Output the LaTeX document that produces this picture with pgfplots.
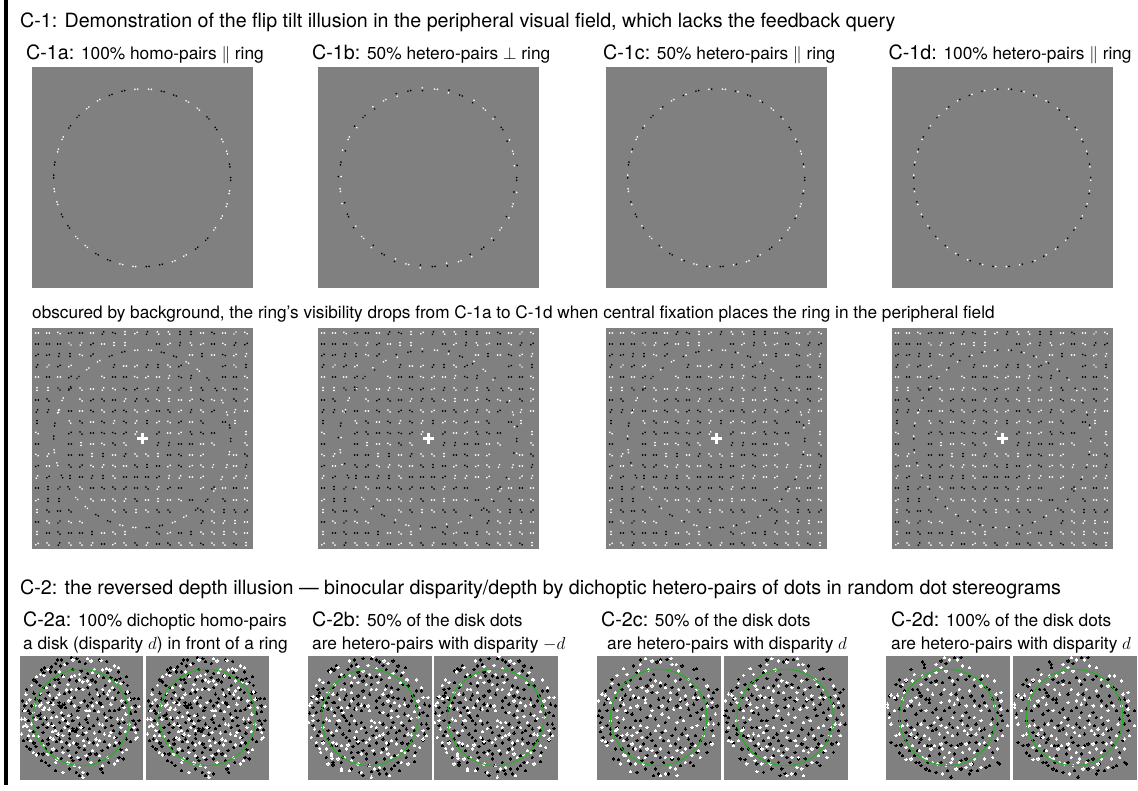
\documentclass[border=0pt]{standalone}
\usepackage{fontspec}
\setmainfont{TeX Gyre Heros}
\usepackage{pgfplots}
\usepackage{pgfplotstable}
\pgfplotsset{compat=1.18}
\definecolor{panelgray}{gray}{0.5}
\definecolor{ringgreen}{rgb}{0.13,0.70,0.13}
\pgfdeclareplotmark{pr}{%
 \pgftransformrotate{\ang}%
 \definecolor{cp}{gray}{\pp}\definecolor{cq}{gray}{\qq}%
 \pgfsetfillcolor{cp}\pgfpathcircle{\pgfqpoint{1.4pt}{0pt}}{.95pt}\pgfusepathqfill
 \pgfsetfillcolor{cq}\pgfpathcircle{\pgfqpoint{-1.4pt}{0pt}}{.95pt}\pgfusepathqfill}
\pgfplotsset{
 panel/.style={scale only axis,width=221pt,height=221pt,anchor=north west,xmin=0,xmax=221,ymin=0,ymax=221,y dir=reverse,ticks=none,axis line style={draw=none},axis background/.style={fill=panelgray},point meta min=0,point meta max=400},
 spanel/.style={panel,width=123.5pt,height=123.5pt,xmin=0,xmax=372,ymin=0,ymax=372}}
% ring of 42 pairs: centre, clockwise tangent t, angle u for C-1b, colours (0 black, 1 white)
\def\ringtab{
x y t u c b1 b2 c1 c2 d1 d2\\
104.3 22.2 4 94 1 1 0 0 1 0 1\\
118 22.2 -4 -4 1 1 1 1 1 0 1\\
130.7 24.5 -13 77 0 0 1 1 0 1 0\\
143 28.5 -21 -21 0 0 0 0 0 1 0\\
155.3 34.5 -30 60 1 1 0 0 1 0 1\\
166.3 42.2 -39 -39 1 1 1 1 1 0 1\\
176 50.9 -47 43 0 0 1 1 0 1 0\\
184 61.5 -56 -56 0 0 0 0 0 1 0\\
190.3 73.5 -64 26 1 1 0 0 1 0 1\\
195 85.5 -73 -73 1 1 1 1 1 0 1\\
197.7 98.5 -81 9 0 0 1 1 0 1 0\\
198.7 111.9 -90 -90 0 0 0 0 0 1 0\\
197.3 125.2 -99 -9 1 1 0 0 1 0 1\\
194.7 138.2 -107 -107 1 1 1 1 1 0 1\\
189.7 150.2 -116 -26 1 1 0 0 1 0 1\\
182.7 161.9 -124 -124 1 1 1 1 1 0 1\\
174.7 172.2 -133 -43 0 0 1 1 0 1 0\\
164.7 181.2 -141 -141 0 0 0 0 0 1 0\\
153 188.5 -150 -60 1 1 0 0 1 0 1\\
141.7 194.2 -159 -159 1 1 1 1 1 0 1\\
129 197.5 -167 -77 0 0 1 1 0 1 0\\
115.7 199.5 -176 -176 0 0 0 0 0 1 0\\
102.3 199.5 -184 -94 1 1 0 0 1 0 1\\
89.3 197.2 -193 -193 1 1 1 1 1 0 1\\
77 193.2 -201 -111 0 0 1 1 0 1 0\\
65 187.2 -210 -210 0 0 0 0 0 1 0\\
54.3 179.5 -219 -129 1 1 0 0 1 0 1\\
44.7 170.5 -227 -227 1 1 1 1 1 0 1\\
36.7 159.9 -236 -146 0 0 1 1 0 1 0\\
30 148.5 -244 -244 0 0 0 0 0 1 0\\
25.3 136.2 -253 -163 1 1 0 0 1 0 1\\
22.3 123.2 -261 -261 1 1 1 1 1 0 1\\
21.7 109.5 -270 -180 0 0 1 1 0 1 0\\
22.7 96.5 -279 -279 0 0 0 0 0 1 0\\
26 83.5 -287 -197 1 1 0 0 1 0 1\\
30.7 71.2 -296 -296 1 1 1 1 1 0 1\\
37.7 59.9 -304 -214 0 0 1 1 0 1 0\\
46 49.5 -313 -313 0 0 0 0 0 1 0\\
55.7 40.9 -321 -231 1 1 0 0 1 0 1\\
66.7 33.2 -330 -330 1 1 1 1 1 0 1\\
78.7 27.9 -339 -249 0 0 1 1 0 1 0\\
91.3 23.9 -347 -347 0 0 0 0 0 1 0\\
}
% background lattice of pairs
\def\bgtab{
x y a c\\
5 5 0 1\\16 5 0 1\\27 5 -30 1\\38 5 10 0\\49 5 0 0\\60 5 0 1\\71 5 60 0\\82 5 -20 0\\93 5 90 1\\104 5 30 1\\115 5 70 0\\126 5 -60 1\\137 5 -60 1\\148 5 90 0\\159 5 90 0\\170 5 0 1\\181 5 -30 0\\192 5 0 1\\203 5 45 1\\214 5 -30 1\\
5 16 0 0\\16 16 0 0\\27 16 0 0\\38 16 -45 1\\49 16 60 1\\60 16 30 0\\71 16 0 1\\82 16 90 1\\93 16 90 1\\126 16 0 0\\137 16 30 1\\148 16 80 0\\159 16 -60 1\\170 16 20 1\\181 16 0 0\\192 16 -30 1\\203 16 60 0\\214 16 30 0\\
5 27 30 0\\16 27 10 0\\27 27 80 0\\38 27 90 0\\49 27 -20 1\\60 27 40 0\\159 27 0 1\\170 27 90 0\\181 27 0 1\\192 27 -20 0\\203 27 30 1\\214 27 70 1\\
5 38 60 0\\16 38 45 1\\27 38 30 0\\38 38 30 1\\82 38 70 0\\93 38 0 1\\104 38 30 1\\115 38 60 0\\126 38 90 0\\137 38 -40 1\\148 38 30 0\\192 38 20 0\\203 38 -45 1\\214 38 90 0\\
5 49 0 1\\16 49 0 0\\27 49 0 1\\38 49 30 0\\71 49 -30 1\\82 49 0 0\\93 49 0 0\\104 49 -20 1\\115 49 30 1\\126 49 0 1\\137 49 70 1\\148 49 -20 0\\159 49 80 0\\192 49 0 0\\203 49 0 0\\214 49 -30 1\\
5 61 90 1\\16 61 90 1\\27 61 -45 0\\38 61 40 0\\49 61 -50 1\\60 61 0 1\\71 61 60 1\\82 61 -30 1\\93 61 -30 0\\104 61 30 0\\115 61 20 1\\126 61 70 0\\137 61 -50 1\\148 61 45 0\\159 61 90 1\\170 61 -60 0\\192 61 -40 1\\203 61 0 0\\214 61 -30 1\\
5 72 0 0\\16 72 -50 0\\49 72 -40 1\\60 72 30 0\\71 72 -40 0\\82 72 0 0\\93 72 60 1\\104 72 60 0\\115 72 -50 0\\126 72 -30 1\\137 72 90 1\\148 72 0 1\\159 72 30 1\\170 72 -30 0\\181 72 -20 1\\203 72 -40 0\\214 72 40 1\\
5 83 60 0\\16 83 70 0\\27 83 70 1\\38 83 0 0\\49 83 0 1\\60 83 -30 0\\71 83 -40 1\\82 83 30 0\\93 83 -30 0\\104 83 -40 1\\115 83 30 1\\126 83 0 0\\137 83 -50 0\\148 83 30 1\\159 83 70 0\\170 83 -40 1\\181 83 30 0\\203 83 70 1\\214 83 0 1\\
5 94 90 0\\38 94 -60 1\\49 94 -40 0\\60 94 0 1\\71 94 -30 0\\82 94 70 1\\93 94 -30 0\\104 94 60 1\\115 94 90 0\\126 94 30 1\\137 94 -30 1\\148 94 30 0\\159 94 0 1\\170 94 -50 0\\192 94 0 0\\203 94 90 1\\
5 105 -30 1\\38 105 30 0\\49 105 -50 0\\60 105 0 0\\71 105 -20 0\\82 105 -20 0\\93 105 30 0\\104 105 60 1\\126 105 40 0\\137 105 0 1\\148 105 30 1\\159 105 -60 0\\170 105 -30 0\\181 105 0 0\\214 105 90 1\\
5 116 0 0\\38 116 0 0\\49 116 90 1\\60 116 0 1\\71 116 -30 1\\82 116 -40 0\\93 116 -50 1\\126 116 70 0\\137 116 80 0\\148 116 0 0\\159 116 0 0\\170 116 0 1\\181 116 -40 1\\214 116 -50 1\\
5 127 -30 1\\16 127 60 1\\38 127 0 0\\49 127 0 0\\60 127 90 1\\71 127 90 0\\82 127 0 1\\93 127 60 0\\104 127 -50 1\\115 127 -40 1\\126 127 90 1\\137 127 0 0\\148 127 -30 0\\159 127 0 1\\170 127 30 1\\203 127 0 1\\214 127 -40 0\\
5 138 20 0\\16 138 0 1\\38 138 -50 0\\49 138 40 0\\60 138 -30 1\\71 138 60 1\\82 138 -30 1\\93 138 0 1\\104 138 -40 0\\115 138 90 0\\126 138 0 0\\137 138 30 1\\148 138 -30 0\\159 138 20 1\\170 138 -40 1\\181 138 70 1\\203 138 0 1\\214 138 70 0\\
5 149 60 1\\16 149 30 0\\38 149 90 0\\49 149 0 0\\60 149 70 0\\71 149 90 0\\82 149 -50 1\\93 149 0 0\\104 149 0 0\\115 149 0 0\\126 149 30 0\\137 149 80 1\\148 149 60 1\\159 149 0 1\\170 149 30 1\\203 149 40 1\\214 149 70 1\\
5 160 0 0\\16 160 90 0\\27 160 45 0\\49 160 -40 1\\60 160 0 0\\71 160 -30 0\\82 160 -40 0\\93 160 40 0\\104 160 0 0\\115 160 -40 0\\126 160 60 1\\137 160 30 0\\148 160 0 0\\170 160 30 1\\181 160 40 0\\192 160 0 1\\203 160 0 0\\214 160 0 1\\
5 172 30 1\\16 172 90 0\\27 172 90 0\\60 172 -40 1\\71 172 0 1\\82 172 -40 1\\93 172 60 1\\104 172 -50 0\\115 172 0 1\\126 172 90 1\\137 172 0 1\\148 172 -30 1\\159 172 0 0\\192 172 -50 0\\203 172 0 1\\214 172 -30 1\\
5 183 90 1\\16 183 -40 0\\27 183 0 0\\38 183 -40 0\\82 183 -40 1\\93 183 -50 0\\104 183 90 1\\115 183 -40 1\\126 183 -50 0\\137 183 -50 0\\170 183 -40 0\\181 183 -40 1\\192 183 90 0\\203 183 -60 0\\214 183 40 0\\
5 194 0 0\\16 194 -40 1\\27 194 45 0\\38 194 -30 1\\49 194 -30 1\\170 194 60 0\\181 194 -40 1\\192 194 60 1\\203 194 90 1\\214 194 0 1\\
5 205 90 1\\16 205 0 0\\27 205 -50 0\\38 205 0 0\\49 205 0 0\\60 205 90 0\\71 205 0 1\\82 205 -40 1\\93 205 90 1\\126 205 -40 0\\137 205 20 1\\148 205 0 0\\159 205 90 0\\170 205 -40 1\\181 205 -40 1\\192 205 90 1\\203 205 -40 1\\214 205 0 1\\
5 216 30 1\\16 216 -50 1\\27 216 60 0\\38 216 -50 1\\49 216 -50 1\\60 216 60 1\\71 216 0 0\\82 216 30 1\\93 216 -50 1\\104 216 -50 0\\115 216 60 1\\126 216 0 0\\137 216 -40 0\\148 216 -50 1\\159 216 -50 1\\170 216 -30 0\\181 216 -40 1\\192 216 -50 1\\203 216 -30 0\\214 216 90 1\\
}
% dots of the four stereograms, in units of one third of a pixel
\pgfplotstableread[row sep=\\]{
x y\\113 12\\125 12\\155 4\\172 8\\180 16\\108 22\\142 22\\95 33\\88 40\\75 36\\123 30\\240 12\\262 16\\198 22\\65 42\\72 50\\92 48\\42 72\\50 78\\108 48\\130 60\\205 52\\218 72\\253 65\\303 68\\322 62\\298 48\\275 65\\60 88\\72 95\\120 80\\150 72\\172 75\\197 65\\228 78\\258 88\\290 72\\312 80\\325 88\\105 70\\20 100\\42 112\\85 110\\112 100\\135 113\\178 98\\210 115\\232 100\\253 112\\297 110\\320 112\\345 128\\358 128\\15 150\\48 130\\60 135\\78 128\\118 140\\125 155\\138 155\\155 142\\178 155\\195 135\\220 128\\240 140\\265 128\\288 130\\320 140\\335 130\\348 150\\12 165\\25 165\\55 180\\62 175\\100 170\\130 180\\155 178\\175 165\\205 150\\225 165\\255 175\\285 165\\300 160\\335 172\\350 168\\62 188\\80 190\\95 205\\120 200\\138 195\\160 195\\180 205\\200 190\\222 210\\262 195\\278 210\\300 202\\342 195\\350 205\\360 195\\55 215\\70 230\\125 225\\145 212\\160 225\\172 220\\190 235\\210 218\\240 228\\258 215\\282 225\\302 232\\338 222\\355 222\\20 272\\22 250\\42 262\\68 255\\85 265\\110 258\\150 248\\172 265\\178 275\\205 250\\222 262\\255 258\\290 245\\300 262\\322 250\\335 258\\48 272\\55 295\\78 278\\95 290\\128 275\\145 285\\170 290\\195 282\\212 295\\248 285\\265 275\\285 270\\305 282\\65 315\\78 320\\88 330\\125 308\\160 315\\182 312\\205 310\\240 315\\268 320\\300 305\\312 310\\108 345\\150 340\\170 350\\180 360\\245 340\\250 350\\205 355\\
118 150\\128 148\\135 145\\160 218\\168 228\\150 235\\100 130\\92 140\\35 150\\30 172\\40 185\\70 205\\82 215\\105 215\\112 240\\140 262\\190 215\\205 200\\235 190\\270 165\\310 150\\330 110\\285 100\\240 120\\165 125\\150 108\\205 95\\235 60\\265 50\\185 45\\160 40\\115 70\\90 85\\60 115\\8 135\\25 195\\42 228\\10 255\\30 280\\70 295\\110 285\\155 305\\230 295\\330 205\\315 200\\275 185\\245 145\\215 140\\120 250\\85 250\\
}\Ak
\pgfplotstableread[row sep=\\]{
x y\\205 8\\215 15\\160 12\\245 14\\285 30\\298 35\\262 38\\250 42\\272 42\\135 25\\62 55\\50 62\\72 58\\120 48\\132 62\\85 40\\155 62\\165 58\\180 72\\190 78\\205 75\\212 85\\238 60\\270 75\\290 80\\305 82\\325 108\\35 88\\18 115\\30 132\\62 112\\80 95\\90 118\\155 100\\140 102\\170 100\\190 100\\250 100\\270 105\\118 115\\155 125\\148 135\\20 142\\45 148\\75 155\\88 160\\70 162\\100 145\\210 165\\200 165\\232 140\\250 152\\275 145\\308 135\\338 155\\360 152\\5 190\\15 190\\18 208\\10 212\\22 212\\48 190\\75 185\\95 185\\110 182\\130 190\\148 180\\145 202\\175 185\\208 180\\240 205\\250 208\\260 185\\238 168\\310 190\\320 175\\345 215\\5 235\\30 225\\25 240\\32 255\\55 242\\98 228\\92 245\\108 225\\115 235\\130 240\\175 240\\200 230\\225 232\\240 255\\235 268\\270 240\\275 230\\305 215\\320 228\\355 245\\350 250\\40 290\\50 298\\100 250\\100 280\\125 258\\150 268\\162 262\\192 255\\220 285\\270 268\\290 260\\310 290\\322 282\\112 310\\108 320\\145 322\\165 330\\175 305\\215 320\\285 325\\295 315\\130 350\\190 350\\180 335\\190 365\\250 330\\
60 150\\65 145\\85 140\\110 125\\35 205\\40 170\\125 170\\165 150\\185 140\\220 150\\265 115\\280 125\\315 155\\330 205\\295 190\\285 245\\255 235\\230 250\\210 260\\195 270\\185 215\\150 225\\135 215\\85 205\\100 210\\70 270\\85 295\\130 290\\150 300\\200 300\\240 300\\265 305\\40 240\\15 165\\220 50\\180 55\\225 40\\145 85\\105 90\\235 115\\280 95\\330 130\\350 230\\
}\Aw
\pgfplotstableread[row sep=\\]{
x y\\140 12\\165 8\\190 8\\205 12\\215 18\\145 25\\130 30\\85 28\\62 45\\78 42\\70 38\\225 28\\255 15\\270 30\\292 35\\155 60\\150 48\\190 65\\205 62\\220 70\\265 45\\280 58\\95 62\\110 82\\75 95\\62 80\\30 100\\45 98\\35 110\\130 90\\165 105\\190 85\\235 90\\250 95\\285 85\\300 90\\325 105\\340 105\\88 115\\115 118\\135 130\\150 120\\185 115\\215 125\\255 125\\270 128\\290 130\\30 140\\45 130\\62 125\\75 140\\90 155\\125 148\\150 145\\170 150\\205 155\\225 145\\248 150\\265 165\\310 135\\325 150\\350 145\\365 150\\5 172\\25 170\\45 155\\60 160\\80 170\\110 185\\130 180\\160 165\\240 178\\290 175\\345 170\\358 180\\15 210\\30 195\\45 200\\85 205\\95 215\\125 205\\160 200\\225 205\\255 200\\285 210\\295 220\\305 195\\340 205\\355 205\\28 240\\35 228\\60 225\\75 240\\105 235\\115 245\\145 250\\150 262\\125 225\\175 230\\205 225\\240 232\\265 230\\290 240\\320 225\\360 218\\25 270\\45 258\\85 270\\125 255\\135 272\\165 285\\185 270\\205 262\\225 250\\265 250\\282 262\\310 255\\345 255\\95 285\\150 290\\175 295\\200 295\\225 280\\260 300\\300 285\\322 290\\55 305\\75 328\\75 320\\100 320\\135 305\\175 310\\205 320\\230 310\\270 320\\295 305\\320 318\\130 340\\155 350\\165 360\\190 348\\230 340\\235 355\\250 340\\275 345\\215 355\\
105 180\\115 195\\60 250\\70 270\\40 165\\30 120\\55 140\\110 130\\140 160\\205 135\\240 120\\175 60\\120 40\\110 60\\165 75\\235 40\\315 120\\300 150\\335 175\\275 225\\250 215\\215 170\\195 240\\165 255\\130 290\\105 305\\240 265\\300 265\\350 235\\15 155\\12 125\\180 330\\210 345\\260 330\\145 205\\170 215\\100 165\\80 140\\270 100\\
}\Bk
\pgfplotstableread[row sep=\\]{
x y\\125 15\\195 2\\228 15\\240 22\\180 28\\205 38\\90 35\\68 48\\150 32\\285 50\\295 70\\325 72\\35 72\\45 80\\25 88\\100 55\\125 58\\185 55\\245 65\\255 52\\278 80\\298 72\\190 100\\232 100\\250 108\\340 95\\15 122\\10 140\\25 128\\5 148\\60 110\\80 85\\100 100\\110 100\\130 110\\205 100\\225 115\\170 125\\260 140\\275 150\\330 135\\345 125\\360 125\\50 150\\95 130\\100 155\\118 155\\145 160\\160 148\\180 150\\250 165\\300 180\\310 188\\320 168\\330 185\\15 180\\2 200\\15 195\\55 190\\65 195\\90 195\\140 195\\190 195\\200 200\\190 212\\205 215\\215 200\\270 182\\250 185\\45 215\\20 220\\70 230\\85 225\\95 195\\145 228\\160 218\\215 240\\225 235\\260 215\\300 235\\310 238\\330 240\\355 240\\10 245\\45 262\\35 278\\38 290\\55 280\\70 295\\72 308\\85 265\\120 268\\150 258\\185 250\\205 245\\235 262\\250 255\\265 265\\280 285\\320 270\\345 250\\70 300\\100 340\\100 345\\110 305\\115 280\\160 295\\220 290\\240 295\\250 305\\290 290\\320 300\\300 325\\150 325\\185 330\\125 345\\160 350\\215 335\\245 360\\190 365\\
40 125\\70 160\\80 180\\105 170\\130 135\\185 165\\225 170\\235 215\\280 200\\315 215\\335 155\\290 145\\240 135\\210 80\\175 85\\150 80\\130 80\\75 115\\165 45\\215 55\\140 65\\40 240\\25 260\\75 260\\100 270\\140 245\\175 260\\195 285\\235 280\\270 300\\280 320\\335 275\\345 225\\60 325\\90 310\\130 315\\200 340\\
}\Bw
\pgfplotstableread[row sep=\\]{
x y\\130 12\\190 12\\210 10\\180 18\\255 30\\290 40\\298 38\\110 30\\45 70\\40 95\\100 72\\130 68\\160 72\\215 60\\250 70\\300 68\\320 70\\25 105\\75 100\\120 95\\150 90\\190 90\\225 95\\285 92\\335 100\\350 110\\360 100\\55 125\\85 118\\100 130\\165 110\\200 125\\240 115\\265 130\\295 115\\320 125\\345 128\\8 165\\15 185\\30 165\\50 160\\70 150\\90 170\\105 175\\130 160\\160 150\\185 155\\210 160\\240 150\\290 145\\315 160\\345 155\\360 150\\10 200\\30 210\\65 200\\85 215\\115 195\\150 185\\175 190\\205 200\\250 185\\280 180\\310 190\\340 190\\365 205\\10 228\\18 245\\40 235\\60 240\\90 250\\130 225\\160 235\\195 230\\235 220\\265 220\\295 240\\320 220\\345 225\\30 260\\55 280\\95 270\\120 255\\150 245\\175 270\\200 255\\235 265\\275 250\\310 255\\340 260\\50 310\\65 312\\95 295\\130 285\\150 300\\180 290\\215 290\\245 310\\280 275\\300 290\\330 290\\100 325\\120 350\\145 340\\175 340\\200 320\\250 330\\280 320\\290 330\\170 360\\185 355\\215 355\\
75 130\\115 125\\140 125\\60 215\\100 215\\130 195\\185 130\\215 135\\250 135\\275 160\\300 170\\330 145\\300 130\\260 95\\205 85\\170 55\\120 50\\85 80\\65 85\\30 130\\22 145\\5 180\\40 220\\110 280\\75 280\\70 245\\140 265\\165 255\\225 240\\255 235\\285 265\\325 265\\250 275\\225 310\\190 305\\165 320\\135 315\\
}\Ck
\pgfplotstableread[row sep=\\]{
x y\\130 25\\145 8\\165 15\\190 18\\222 8\\238 25\\225 25\\245 45\\80 38\\60 58\\45 82\\90 55\\125 45\\155 42\\175 75\\190 80\\235 75\\280 85\\275 70\\330 90\\15 115\\25 118\\5 135\\35 128\\55 110\\95 90\\100 100\\125 125\\145 130\\135 95\\165 90\\220 110\\245 100\\265 120\\300 100\\305 125\\335 120\\145 140\\80 145\\60 165\\120 150\\165 165\\195 175\\220 130\\250 155\\270 145\\330 150\\345 140\\15 215\\40 195\\60 185\\80 190\\110 215\\130 210\\160 180\\185 210\\215 185\\240 200\\300 210\\325 215\\350 205\\15 255\\25 258\\90 235\\105 240\\120 230\\150 215\\175 225\\205 225\\270 240\\320 240\\335 205\\345 265\\30 270\\80 255\\85 300\\115 280\\130 272\\150 280\\165 285\\190 280\\220 270\\205 305\\255 290\\285 300\\310 305\\115 325\\140 325\\100 348\\220 335\\235 340\\205 355\\190 360\\240 360\\80 298\\305 285\\
40 140\\70 130\\85 165\\100 155\\110 120\\180 110\\205 95\\250 130\\290 125\\320 180\\355 175\\350 240\\285 215\\260 195\\230 160\\195 150\\150 105\\60 220\\45 255\\55 225\\75 240\\105 265\\135 245\\190 245\\215 255\\245 250\\295 270\\265 280\\240 285\\175 300\\145 305\\95 315\\70 325\\125 305\\225 305\\265 320\\
}\Cw
\pgfplotstableread[row sep=\\]{
x y\\110 18\\115 25\\165 15\\180 22\\205 5\\225 5\\75 40\\115 35\\30 85\\45 90\\40 72\\60 75\\95 100\\105 120\\135 80\\170 80\\205 85\\240 70\\250 60\\265 90\\10 120\\30 130\\100 110\\130 130\\165 115\\210 115\\230 125\\265 135\\290 120\\310 100\\320 130\\75 150\\90 175\\105 165\\130 140\\150 160\\175 165\\205 170\\240 170\\250 185\\280 150\\310 165\\335 170\\345 180\\10 175\\40 195\\75 215\\95 205\\135 210\\165 190\\190 205\\225 195\\270 205\\295 220\\320 190\\350 195\\365 165\\60 230\\70 240\\85 245\\95 235\\105 250\\140 225\\175 245\\215 235\\255 240\\290 245\\320 230\\345 225\\15 260\\45 268\\100 260\\135 270\\180 260\\195 270\\225 265\\270 260\\300 270\\330 255\\40 292\\50 300\\70 285\\90 320\\105 330\\130 300\\160 295\\205 295\\240 310\\275 285\\320 290\\100 320\\130 345\\150 350\\185 345\\195 365\\225 340\\250 355\\120 340\\335 320\\340 325\\310 330\\275 345\\255 345\\
55 105\\80 100\\120 70\\150 75\\190 65\\215 70\\285 70\\300 95\\335 130\\340 150\\120 130\\140 170\\190 155\\220 145\\255 120\\295 140\\60 195\\55 165\\40 160\\115 195\\150 220\\200 215\\245 210\\285 225\\335 205\\125 270\\160 275\\215 270\\250 260\\95 285\\125 320\\60 255\\30 270\\85 300\\165 320\\225 315\\260 325\\300 335\\
}\Dk
\pgfplotstableread[row sep=\\]{
x y\\150 25\\165 35\\175 5\\190 12\\215 12\\230 30\\250 35\\60 72\\50 85\\85 55\\110 60\\150 50\\180 45\\225 55\\290 60\\325 75\\15 118\\25 125\\35 118\\55 110\\90 125\\125 100\\150 85\\175 100\\195 115\\220 100\\250 105\\285 90\\330 115\\5 145\\5 155\\10 185\\50 130\\75 135\\120 165\\190 135\\205 145\\240 150\\285 165\\300 150\\345 135\\15 205\\45 212\\50 210\\65 208\\85 222\\145 200\\155 185\\165 210\\180 215\\200 185\\230 180\\265 185\\285 195\\315 205\\345 160\\365 210\\30 240\\40 235\\115 240\\130 250\\160 235\\165 265\\185 230\\200 240\\235 225\\240 265\\270 235\\280 220\\335 250\\350 240\\60 275\\80 270\\100 285\\115 270\\145 270\\170 280\\210 275\\250 280\\295 260\\335 280\\60 312\\75 310\\110 305\\140 320\\175 305\\200 310\\265 310\\295 310\\320 305\\170 355\\220 320\\195 320\\180 330\\240 335\\285 335\\
80 75\\105 85\\130 60\\200 75\\265 70\\305 60\\345 110\\25 165\\65 150\\100 145\\140 115\\165 140\\215 130\\265 150\\325 150\\105 205\\125 215\\230 205\\255 220\\310 240\\280 265\\310 275\\245 235\\215 215\\90 245\\75 235\\135 280\\190 290\\230 290\\265 290\\120 310\\155 325\\210 340\\255 325\\
}\Dw
\newcommand{\pairs}[4]{\def\pairsA##1{\addplot[scatter,only marks,mark=pr,point meta=x,
 visualization depends on={value \thisrow{#2}\as\ang},
 visualization depends on={value \thisrow{#3}\as\pp},
 visualization depends on={value \thisrow{#4}\as\qq}] table[x=x,y=y,row sep=\\] {##1};}%
 \expandafter\pairsA\expandafter{#1}}
\newcommand{\ringpanel}[5]{\begin{axis}[panel,at={(#1pt,-#2pt)}]
 \pairs{\ringtab}{#3}{#4}{#5}
\end{axis}}
\newcommand{\bgpanel}[5]{\begin{axis}[panel,at={(#1pt,-#2pt)}]
 \pairs{\bgtab}{a}{c}{c}
 \pairs{\ringtab}{#3}{#4}{#5}
 \addplot[only marks,mark=+,mark size=5.4pt,mark options={draw=white,line width=2.6pt}] coordinates {(110.3,110.7)};
\end{axis}}
\newcommand{\stereo}[4]{\begin{axis}[spanel,at={(#1pt,-656pt)},width=#2pt]
 \addplot[only marks,color=black,mark=*,mark size=1.2pt,mark options={draw=black,fill=black,line width=0pt}] table {#3};
 \addplot[only marks,color=white,mark=*,mark size=1.2pt,mark options={draw=white,fill=white,line width=0pt}] table {#4};
 \addplot[only marks,mark=o,mark size=48.2pt,mark options={draw=ringgreen,line width=1pt}] coordinates {(185,185)};
\end{axis}}
\newcommand{\bgt}[1]{{\fontsize{19.7}{22}\selectfont #1}\hspace{3pt}}
\newcommand{\sma}[1]{{\fontsize{17.3}{20}\selectfont #1}}
\newcommand{\lab}[3]{\node[anchor=base west,inner sep=0pt] at (#1pt,-#2pt) {#3};}
\begin{document}
\begin{tikzpicture}[x=1pt,y=1pt]
\path[use as bounding box] (0,0) rectangle (1138,-790);
\fill[black] (4,0) rectangle (8,-785);
\lab{20}{27}{\fontsize{19.65}{22}\selectfont C-1: Demonstration of the flip tilt illusion in the peripheral visual field, which lacks the feedback query}
\lab{26}{59.5}{\bgt{C-1a:} \sma{100\% homo-pairs $\parallel$ ring}}
\lab{312}{59.5}{\bgt{C-1b:} \sma{50\% hetero-pairs $\perp$ ring}}
\lab{603}{59.5}{\bgt{C-1c:} \sma{50\% hetero-pairs $\parallel$ ring}}
\lab{888.5}{59.5}{\bgt{C-1d:} \sma{100\% hetero-pairs $\parallel$ ring}}
\lab{32}{318}{\fontsize{17.2}{20}\selectfont obscured by background, the ring's visibility drops from C-1a to C-1d when central fixation places the ring in the peripheral field}
\lab{20}{594}{\fontsize{19.7}{22}\selectfont C-2: the reversed depth illusion --- binocular disparity/depth by dichoptic hetero-pairs of dots in random dot stereograms}
\lab{23}{626}{\bgt{C-2a:} \sma{100\% dichoptic homo-pairs}}
\lab{23}{649}{\sma{a disk (disparity $d$) in front of a ring}}
\lab{312}{626}{\bgt{C-2b:} \sma{50\% of the disk dots}}
\lab{312}{649}{\sma{are hetero-pairs with disparity $-d$}}
\lab{601}{626}{\bgt{C-2c:} \sma{50\% of the disk dots}}
\lab{607}{649}{\sma{are hetero-pairs with disparity $d$}}
\lab{891}{626}{\bgt{C-2d:} \sma{100\% of the disk dots}}
\lab{891}{649}{\sma{are hetero-pairs with disparity $d$}}
\ringpanel{32}{67}{t}{c}{c}
\ringpanel{318}{67}{u}{b1}{b2}
\ringpanel{606}{67}{t}{c1}{c2}
\ringpanel{892}{67}{t}{d1}{d2}
\bgpanel{32}{328}{t}{c}{c}
\bgpanel{318}{328}{u}{b1}{b2}
\bgpanel{606}{328}{t}{c1}{c2}
\bgpanel{892}{328}{t}{d1}{d2}
\stereo{20}{123}{\Ak}{\Aw}
\stereo{146}{123}{\Ak}{\Aw}
\stereo{308}{124}{\Bk}{\Bw}
\stereo{434}{124}{\Bk}{\Bw}
\stereo{597}{124}{\Ck}{\Cw}
\stereo{723.5}{124}{\Ck}{\Cw}
\stereo{886}{124}{\Dk}{\Dw}
\stereo{1013}{124}{\Dk}{\Dw}
\end{tikzpicture}
\end{document}
